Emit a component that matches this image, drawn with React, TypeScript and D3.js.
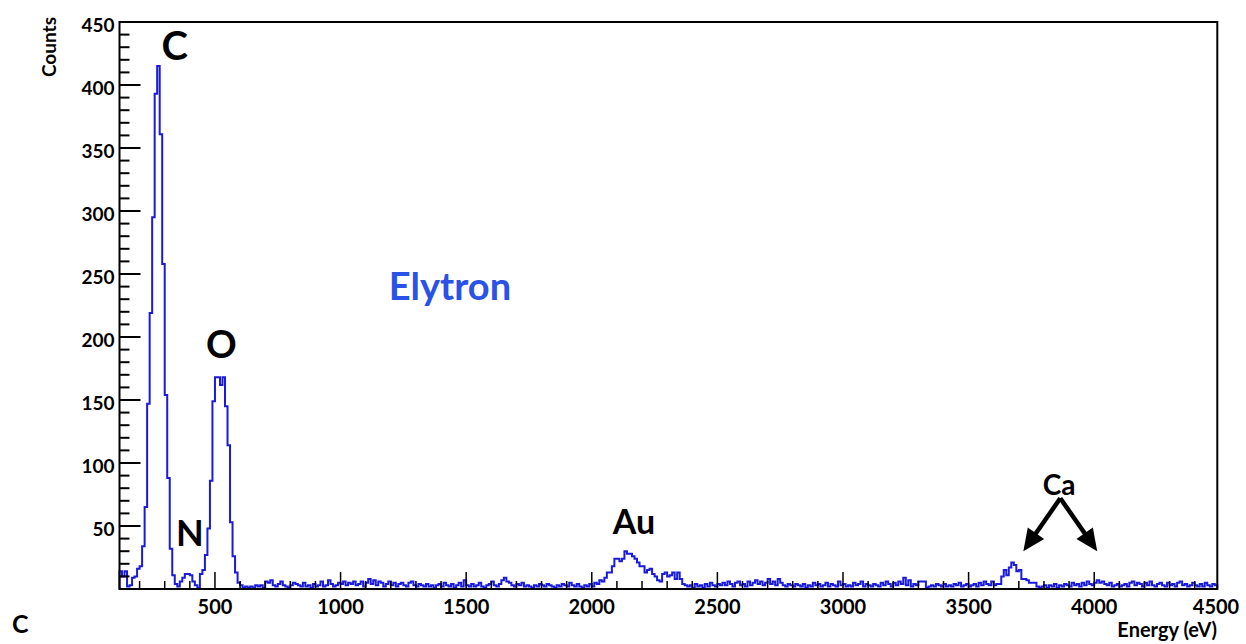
import React from "react";
import * as d3 from "d3";

const binStart = 120;
const binWidth = 10;
const counts: number[] = [
  14, 10, 14, 2, 3, 9, 10, 16, 18, 34,
  65, 147, 219, 295, 393, 415, 361, 258, 154, 88,
  32, 11, 4, 2, 6, 9, 12, 12, 11, 6,
  3, 1, 12, 15, 27, 48, 86, 149, 168, 168,
  162, 168, 145, 114, 53, 26, 13, 5, 3, 1,
  2, 1, 2, 1, 3, 2, 3, 1, 6, 5,
  7, 3, 2, 4, 6, 3, 2, 1, 3, 5,
  4, 3, 2, 5, 2, 3, 1, 4, 2, 3,
  6, 2, 3, 7, 4, 2, 3, 5, 4, 6,
  3, 5, 4, 6, 3, 4, 6, 2, 5, 8,
  4, 7, 3, 6, 5, 2, 4, 6, 3, 5,
  2, 4, 5, 3, 2, 5, 6, 3, 2, 4,
  3, 2, 4, 2, 3, 1, 3, 4, 2, 5,
  3, 2, 4, 1, 3, 5, 2, 7, 3, 2,
  4, 2, 3, 5, 2, 1, 3, 4, 6, 3,
  2, 4, 7, 9, 6, 5, 3, 2, 4, 3,
  5, 2, 3, 2, 1, 3, 2, 4, 3, 2,
  4, 3, 2, 1, 3, 2, 4, 3, 2, 5,
  3, 2, 4, 2, 1, 3, 2, 4, 2, 5,
  4, 7, 6, 9, 13, 13, 18, 24, 24, 22,
  24, 30, 28, 28, 26, 24, 21, 18, 18, 13,
  15, 16, 12, 10, 7, 6, 12, 13, 10, 11,
  13, 8, 13, 8, 4, 3, 2, 3, 1, 4,
  2, 3, 1, 4, 2, 5, 3, 2, 4, 3,
  5, 3, 6, 4, 2, 5, 6, 3, 4, 2,
  6, 3, 5, 7, 4, 6, 3, 5, 8, 4,
  6, 3, 8, 5, 3, 2, 4, 3, 2, 4,
  3, 2, 4, 1, 3, 2, 5, 3, 4, 2,
  3, 5, 2, 4, 3, 2, 6, 3, 4, 2,
  3, 2, 5, 3, 4, 6, 2, 4, 3, 2,
  4, 3, 2, 5, 3, 6, 4, 2, 5, 3,
  6, 4, 9, 3, 7, 2, 4, 3, 6, 6,
  6, 1, 2, 3, 2, 4, 3, 2, 4, 2,
  3, 2, 4, 3, 5, 2, 3, 4, 2, 3,
  4, 2, 5, 3, 6, 4, 3, 6, 3, 4,
  4, 10, 15, 11, 17, 21, 19, 14, 15, 8,
  8, 7, 5, 5, 5, 2, 1, 2, 3, 1,
  3, 2, 4, 1, 3, 2, 4, 3, 2, 5,
  3, 4, 2, 5, 3, 6, 4, 3, 5, 7,
  5, 6, 4, 3, 5, 2, 3, 4, 2, 3,
  4, 2, 5, 6, 3, 5, 4, 2, 5, 3,
  6, 3, 2, 4, 5, 3, 2, 5, 3, 4,
  2, 5, 6, 3, 4, 2, 3, 5, 3, 2,
  4, 2, 5, 3, 2, 4, 3,
];

const xDomain = [120, 4490];
const yDomain = [0, 450];
const xMajorTicks = [500, 1000, 1500, 2000, 2500, 3000, 3500, 4000, 4500];
const yMajorTicks = [50, 100, 150, 200, 250, 300, 350, 400, 450];

const peakLabels = [
  { text: "C", energy: 340, count: 432, size: 40 },
  { text: "N", energy: 400, count: 45, size: 36 },
  { text: "O", energy: 525, count: 195, size: 38 },
  { text: "Au", energy: 2168, count: 54, size: 34 },
];

// Ca annotation: apex and arrow tips (energy, count)
const caApex: [number, number] = [3865, 72];
const caTips: [number, number][] = [
  [3718, 30],
  [4012, 30],
];

const FONT = "Lato, 'Open Sans', sans-serif";

export default function App() {
  const W = 1246;
  const H = 644;
  const left = 119.5;
  const right = 1217.3;
  const top = 22;
  const bottom = 589;

  const x = d3.scaleLinear().domain(xDomain).range([left, right]);
  const y = d3.scaleLinear().domain(yDomain).range([bottom, top]);

  const pts: [number, number][] = [[binStart, 0]];
  counts.forEach((c, i) => {
    const e0 = binStart + i * binWidth;
    pts.push([e0, c]);
    pts.push([e0 + binWidth, c]);
  });
  pts.push([binStart + counts.length * binWidth, 0]);
  const line = d3
    .line<[number, number]>()
    .x((d) => x(d[0]))
    .y((d) => y(d[1]));

  const yMinor = d3.range(10, 450, 10).filter((v) => v % 50 !== 0);
  const xMinor = d3.range(200, 4490, 100).filter((v) => v % 500 !== 0);

  const ax = x(caApex[0]);
  const ay = y(caApex[1]);
  const arrows = caTips.map((t) => {
    const tx = x(t[0]);
    const ty = y(t[1]);
    const dx = tx - ax;
    const dy = ty - ay;
    const len = Math.hypot(dx, dy);
    const ux = dx / len;
    const uy = dy / len;
    const headLen = 22;
    const headHalf = 10;
    const bx = tx - ux * headLen;
    const by = ty - uy * headLen;
    const px = -uy;
    const py = ux;
    const head = `M${tx},${ty} L${bx + px * headHalf},${by + py * headHalf} L${bx - px * headHalf},${by - py * headHalf} Z`;
    return { bx: tx - ux * (headLen - 4), by: ty - uy * (headLen - 4), head };
  });

  return (
    <svg width={W} height={H} style={{ position: "absolute", left: 0, top: 0, background: "#fff" }}>
      <rect x={0} y={0} width={W} height={H} fill="#fff" />
      {/* histogram */}
      <path d={line(pts) || ""} fill="none" stroke="#1a1adc" strokeWidth={2} strokeLinejoin="miter" />
      {/* y ticks */}
      {yMajorTicks.map((v) => (
        <line key={"ym" + v} x1={left} x2={left + 21} y1={y(v)} y2={y(v)} stroke="#000" strokeWidth={2} />
      ))}
      {yMinor.map((v) => (
        <line key={"yn" + v} x1={left} x2={left + 10} y1={y(v)} y2={y(v)} stroke="#000" strokeWidth={2} />
      ))}
      {/* x ticks */}
      {xMajorTicks
        .filter((v) => x(v) < right)
        .map((v) => (
          <line key={"xm" + v} x1={x(v)} x2={x(v)} y1={bottom} y2={bottom - 17} stroke="#000" strokeWidth={1.5} />
        ))}
      {xMinor.map((v) => (
        <line key={"xn" + v} x1={x(v)} x2={x(v)} y1={bottom} y2={bottom - 8} stroke="#000" strokeWidth={1.5} />
      ))}
      {/* frame */}
      <rect x={left} y={top} width={right - left} height={bottom - top} fill="none" stroke="#000" strokeWidth={2} />
      {/* y labels */}
      {yMajorTicks.map((v) => (
        <text
          key={"yl" + v}
          x={left - 5}
          y={y(v) + 2}
          textAnchor="end"
          dominantBaseline="central"
          fontFamily={FONT}
          fontWeight="bold"
          fontSize={19}
        >
          {v}
        </text>
      ))}
      {/* x labels */}
      {xMajorTicks.map((v) => (
        <text
          key={"xl" + v}
          x={Math.min(x(v), 1216)}
          y={606}
          textAnchor="middle"
          dominantBaseline="central"
          fontFamily={FONT}
          fontWeight="bold"
          fontSize={20}
        >
          {v}
        </text>
      ))}
      <text x={1217} y={629} textAnchor="end" dominantBaseline="central" fontFamily={FONT} fontWeight="bold" fontSize={20}>
        Energy (eV)
      </text>
      <text
        transform={`translate(48, 17) rotate(-90)`}
        textAnchor="end"
        dominantBaseline="central"
        fontFamily={FONT}
        fontWeight="bold"
        fontSize={19}
      >
        Counts
      </text>
      <text x={12} y={623} dominantBaseline="central" fontFamily={FONT} fontWeight="bold" fontSize={25}>
        C
      </text>
      {/* peak labels */}
      {peakLabels.map((p) => (
        <text
          key={p.text}
          x={x(p.energy)}
          y={y(p.count)}
          textAnchor="middle"
          dominantBaseline="central"
          fontFamily={FONT}
          fontWeight="bold"
          fontSize={p.size}
        >
          {p.text}
        </text>
      ))}
      <text x={450} y={285} textAnchor="middle" dominantBaseline="central" fontFamily={FONT} fontWeight="bold" fontSize={38} fill="#2a52e8">
        Elytron
      </text>
      {/* Ca annotation */}
      <text x={1059} y={484} textAnchor="middle" dominantBaseline="central" fontFamily={FONT} fontWeight="bold" fontSize={28}>
        Ca
      </text>
      {arrows.map((a, i) => (
        <g key={"arr" + i}>
          <line x1={ax} y1={ay} x2={a.bx} y2={a.by} stroke="#000" strokeWidth={4.5} />
          <path d={a.head} fill="#000" />
        </g>
      ))}
    </svg>
  );
}
